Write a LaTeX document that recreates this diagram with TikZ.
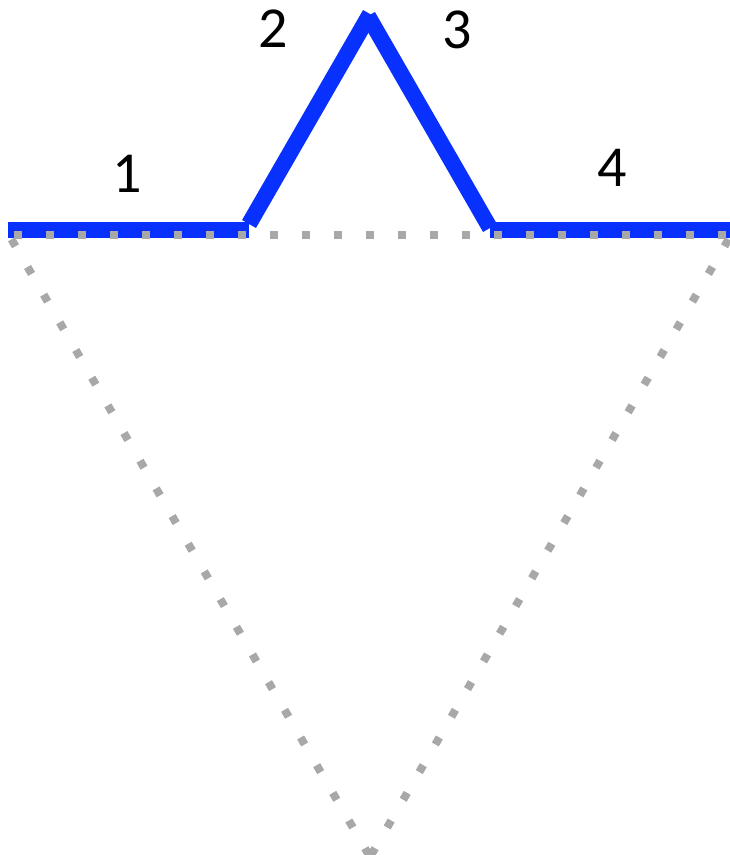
\documentclass[tikz,border=0pt]{standalone}
\usepackage{fontspec}
\newfontfamily\lblfont{Carlito-Regular.ttf}
\definecolor{kblue}{RGB}{8,48,255}
\definecolor{kgray}{RGB}{168,168,168}
\tikzset{
  kochseg/.style={draw=kblue, line width=16pt, line cap=butt},
  dotline/.style={draw=kgray, line width=8pt, line cap=butt, dash pattern=on 8pt off 24pt, dash phase=-5pt},
  lbl/.style={inner sep=0pt, font=\lblfont\fontsize{58pt}{60pt}\selectfont}
}
\begin{document}
\begin{tikzpicture}[x=1pt,y=-1pt]
\useasboundingbox (0,0) rectangle (730,855);
% Koch curve points
\coordinate (p0) at (8,230);
\coordinate (p1) at (249,230);
\coordinate (p1b) at (249,224);
\coordinate (p2) at (370,14);
\coordinate (p2b) at (368,16);
\coordinate (p3) at (490,228);
\coordinate (p3b) at (490,230);
\coordinate (p4) at (730,230);
\draw[kochseg] (p0) -- (p1);
\draw[kochseg] (p1b) -- (p2);
\draw[kochseg] (p2b) -- (p3);
\draw[kochseg] (p3b) -- (p4);
% dotted triangle
\coordinate (t1) at (9,235);
\coordinate (t2) at (731,235);
\coordinate (t3) at (370,857);
\draw[dotline] (t1) -- (t2);
\draw[dotline] (t2) -- (t3);
\draw[dotline] (t1) -- (t3);
% labels
\node[lbl] (l1) at (127,174) {1};
\node[lbl] (l2) at (273,29) {2};
\node[lbl] (l3) at (457,30) {3};
\node[lbl] (l4) at (612,168) {4};
\end{tikzpicture}
\end{document}
